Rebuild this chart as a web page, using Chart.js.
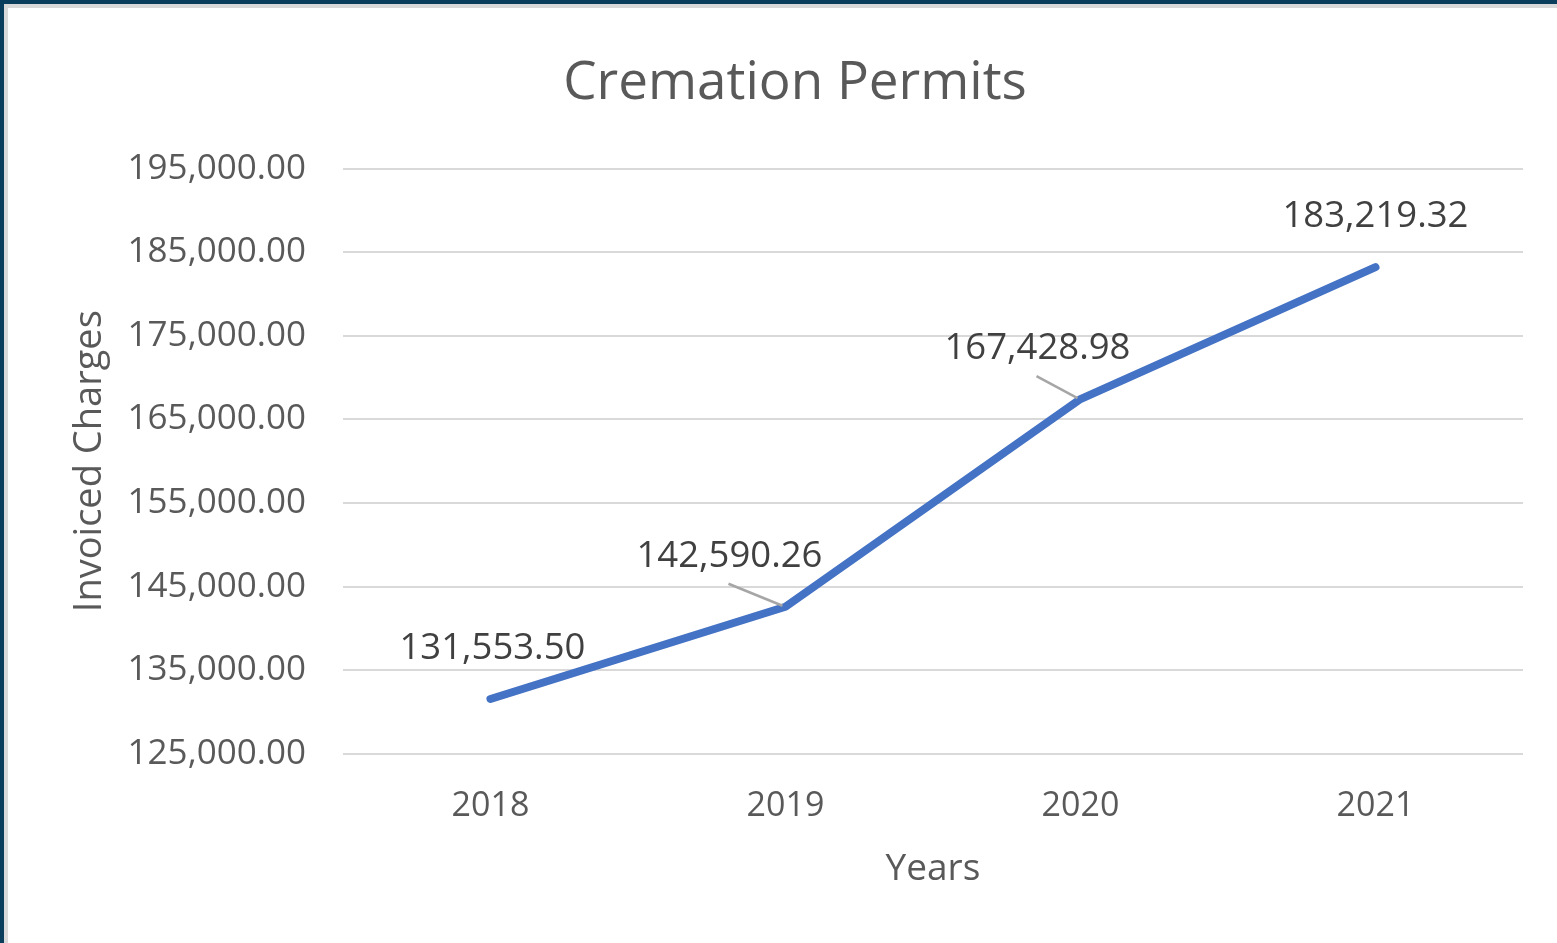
<!DOCTYPE html>
<html>
<head>
<meta charset="utf-8">
<script src="https://cdn.jsdelivr.net/npm/chart.js@4.4.0/dist/chart.umd.min.js"></script>
<style>
  html, body { margin: 0; padding: 0; width: 1557px; height: 943px; overflow: hidden; background: #0b3d5c; }
  #frame { position: absolute; left: 4px; top: 4px; right: 0; bottom: 0; background: #d9d9d9; }
  #box { position: absolute; left: 8px; top: 8px; width: 1549px; height: 935px; background: #ffffff; }
</style>
</head>
<body>
<div id="frame"></div>
<div id="box"><canvas id="permitsChart"></canvas></div>
<script>
const years = ["2018", "2019", "2020", "2021"];
const invoicedCharges = [131553.50, 142590.26, 167428.98, 183219.32];
const yMin = 125000;
const yMax = 195000;
const yStep = 10000;

const FONT = "'Open Sans', Lato, sans-serif";

function money(v) {
  return v.toLocaleString("en-US", { minimumFractionDigits: 2, maximumFractionDigits: 2 });
}

// label offsets relative to the point: [dx, leader]
const labelPlace = [
  [2, false],
  [-56, true],
  [-43, true],
  [0, false],
];

const pointLabels = {
  id: "pointLabels",
  afterDatasetsDraw(chart) {
    const ctx = chart.ctx;
    const meta = chart.getDatasetMeta(0);
    ctx.save();
    ctx.font = "36.5px " + FONT;
    ctx.fillStyle = "#404040";
    ctx.textAlign = "center";
    ctx.textBaseline = "middle";
    meta.data.forEach(function (pt, i) {
      const p = labelPlace[i];
      const lx = pt.x + p[0];
      ctx.fillText(money(invoicedCharges[i]), lx, pt.y - 50);
      if (p[1]) {
        ctx.strokeStyle = "#a6a6a6";
        ctx.lineWidth = 2.5;
        ctx.beginPath();
        ctx.moveTo(lx - 1, pt.y - 23);
        ctx.lineTo(pt.x - 3, pt.y - 1);
        ctx.stroke();
      }
    });
    ctx.restore();
  },
};

new Chart(document.getElementById("permitsChart"), {
  type: "line",
  data: {
    labels: years,
    datasets: [
      {
        label: "Invoiced Charges",
        data: invoicedCharges,
        borderColor: "#4472c4",
        borderWidth: 8,
        borderCapStyle: "round",
        borderJoinStyle: "round",
        pointRadius: 0,
        tension: 0,
      },
    ],
  },
  options: {
    responsive: true,
    maintainAspectRatio: false,
    animation: false,
    layout: { padding: { left: 59, right: 34, top: 40, bottom: 51 } },
    plugins: {
      legend: { display: false },
      tooltip: { enabled: false },
      title: {
        display: true,
        text: "Cremation Permits",
        color: "#595959",
        font: { family: FONT, size: 53, weight: "normal" },
        padding: { top: 4, bottom: 53 },
      },
    },
    scales: {
      x: {
        offset: true,
        grid: { display: false, drawTicks: false },
        border: { display: false },
        ticks: { color: "#595959", font: { family: FONT, size: 34 }, padding: 32 },
        title: {
          display: true,
          text: "Years",
          color: "#595959",
          font: { family: FONT, size: 37 },
          padding: { top: -11, bottom: 0 },
        },
      },
      y: {
        min: yMin,
        max: yMax,
        ticks: {
          stepSize: yStep,
          color: "#595959",
          font: { family: FONT, size: 35 },
          padding: 37,
          callback: function (v) { return money(v); },
        },
        grid: { color: "#d9d9d9", lineWidth: 2, drawTicks: false },
        border: { display: false },
        title: {
          display: true,
          text: "Invoiced Charges",
          color: "#595959",
          font: { family: FONT, size: 38 },
          padding: { top: 0, bottom: -22 },
        },
      },
    },
  },
  plugins: [pointLabels],
});
</script>
</body>
</html>
